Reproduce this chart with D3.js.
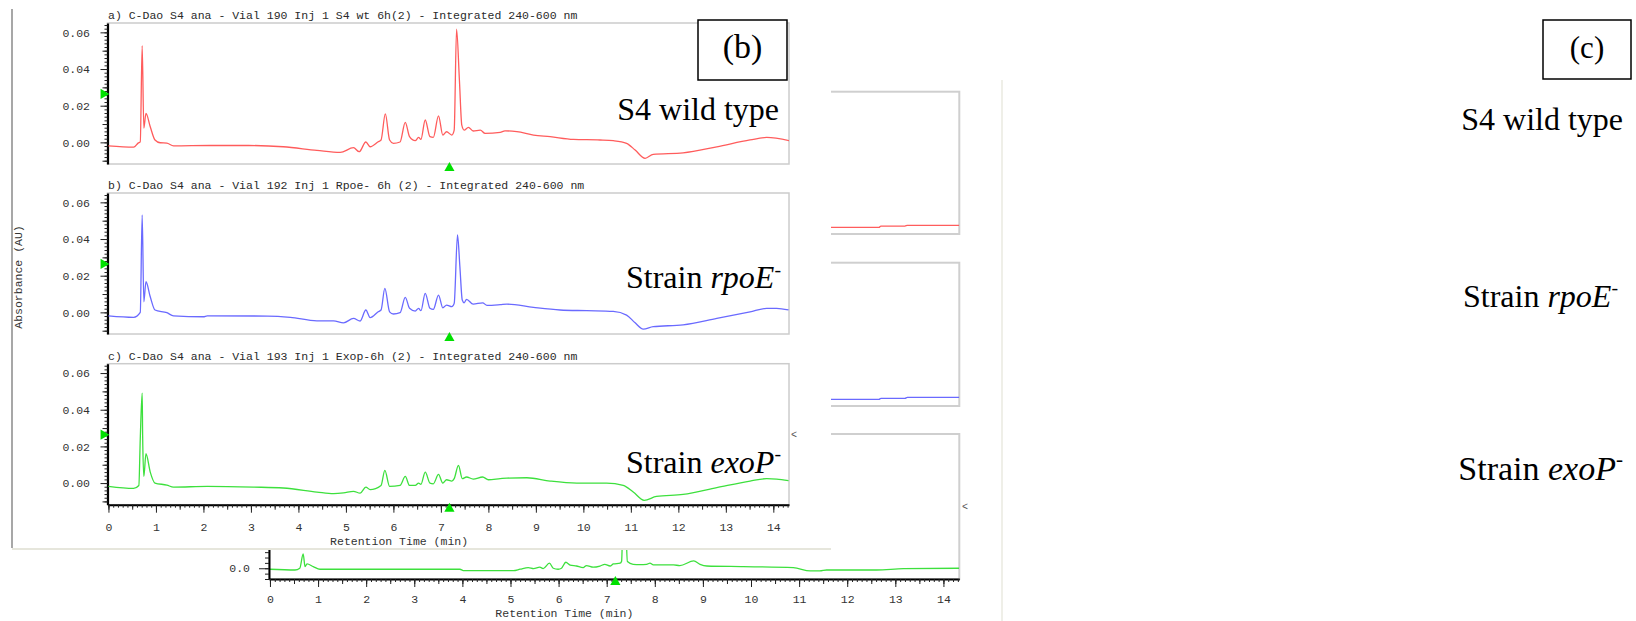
<!DOCTYPE html>
<html><head><meta charset="utf-8">
<script src="https://cdn.jsdelivr.net/npm/d3@7"></script>
<style>body{margin:0;background:#fff;} svg{display:block;}</style>
</head><body>
<svg id="c" width="1636" height="621"></svg>
<script>
// ---------------- DATA ----------------
const timeTicks = [0,1,2,3,4,5,6,7,8,9,10,11,12,13,14];
const absTicks = [0.00,0.02,0.04,0.06];
const panelTitles = [
  "a) C-Dao S4 ana - Vial 190 Inj 1 S4 wt 6h(2) - Integrated 240-600 nm",
  "b) C-Dao S4 ana - Vial 192 Inj 1 Rpoe- 6h (2) - Integrated 240-600 nm",
  "c) C-Dao S4 ana - Vial 193 Inj 1 Exop-6h (2) - Integrated 240-600 nm"
];
const xAxisTitle = "Retention Time (min)";
const yAxisTitle = "Absorbance (AU)";
const panelTags = ["(b)", "(c)"];
const sampleLabels = [
  [{t:"S4 wild type"}],
  [{t:"Strain "},{t:"rpoE",i:true},{t:"-",sup:true}],
  [{t:"Strain "},{t:"exoP",i:true},{t:"-",sup:true}]
];
// markers (green triangles)
const markerTime = 7.18;
const markerAbs = 0.0264;

// S4 wild type (red)
const wtTime = [0,0.53,0.63,0.67,0.71,0.745,0.79,0.88,0.98,1.09,1.23,1.37,2.14,2.95,3.68,4.39,4.88,5.16,5.28,5.42,5.51,5.68,5.74,5.83,5.92,6.0,6.14,6.25,6.34,6.46,6.53,6.58,6.67,6.77,6.84,6.95,7.04,7.12,7.23,7.28,7.33,7.39,7.44,7.49,7.58,7.68,7.83,7.93,8.25,8.35,8.6,8.95,9.3,9.79,10.35,10.63,10.91,11.09,11.3,11.47,12.1,12.81,13.51,13.86,14.34];
const wtAbs = [-0.0019,-0.0026,-0.0003,0.0003,0.0527,0.0078,0.0158,0.0085,0.0013,-0.0002,-0.0004,-0.0019,-0.0017,-0.0017,-0.0024,-0.0044,-0.0055,-0.0029,-0.0051,0.0002,-0.0024,0.0003,0.0013,0.0155,0.0013,-0.0005,0.0002,0.0109,0.0031,0.0009,0.0027,0.0016,0.0122,0.0031,0.0027,0.0145,0.004,0.0058,0.004,0.0067,0.0617,0.034,0.0094,0.0067,0.0082,0.0062,0.0067,0.0049,0.0055,0.0063,0.0058,0.004,0.0031,0.0016,0.0013,0.0009,-0.0005,-0.0042,-0.0087,-0.0065,-0.0057,-0.0024,0.0013,0.0027,0.0009];

// Strain rpoE- (blue)
const rpoTime = [0,0.53,0.67,0.71,0.745,0.79,0.88,0.98,1.23,1.37,2.0,2.08,3.35,3.83,4.39,4.74,4.95,5.16,5.3,5.42,5.51,5.68,5.74,5.82,5.92,6.0,6.14,6.25,6.34,6.46,6.53,6.58,6.67,6.77,6.84,6.95,7.04,7.12,7.23,7.28,7.35,7.4,7.45,7.49,7.54,7.68,7.88,7.97,8.25,8.39,8.95,9.51,10.07,10.63,10.91,11.09,11.26,11.47,12.1,12.81,13.51,13.86,14.07,14.32];
const rpoAbs = [-0.0019,-0.0027,0.0,0.0531,0.0058,0.0167,0.0085,0.0013,-0.0002,-0.0019,-0.0024,-0.0019,-0.002,-0.0027,-0.0046,-0.0046,-0.0057,-0.0033,-0.0047,0.0013,-0.0029,0.0003,0.0013,0.0131,0.0003,-0.0009,-0.0002,0.0082,0.0022,0.0007,0.0022,0.0009,0.0104,0.0022,0.0016,0.0094,0.0025,0.004,0.0031,0.0049,0.0422,0.0249,0.0067,0.0052,0.0071,0.0045,0.0052,0.0038,0.0042,0.0045,0.0027,0.0013,0.0009,0.0005,-0.0015,-0.0057,-0.0091,-0.0078,-0.0068,-0.0033,0.0003,0.0022,0.0022,0.0013];

// Strain exoP- (green)
const exoTime = [0,0.53,0.64,0.67,0.71,0.72,0.745,0.79,0.88,0.98,1.23,1.37,2.08,3.06,3.68,4.39,4.74,4.95,5.16,5.3,5.42,5.51,5.74,5.82,5.92,6.14,6.25,6.34,6.46,6.53,6.58,6.67,6.77,6.84,6.95,7.04,7.12,7.23,7.28,7.37,7.45,7.54,7.68,7.88,8.0,8.25,8.39,8.81,9.3,9.86,10.49,10.84,11.05,11.28,11.54,12.1,12.81,13.51,13.86,14.07,14.32];
const exoAbs = [-0.0018,-0.0029,-0.0013,0.0242,0.0491,0.026,0.0036,0.016,0.006,0.0,-0.0011,-0.0022,-0.0018,-0.0022,-0.0027,-0.0049,-0.0058,-0.0054,-0.0045,-0.0055,-0.0022,-0.0036,-0.0013,0.0069,-0.0018,-0.0013,0.0036,-0.0013,-0.0013,0.0,-0.0007,0.006,0.0,-0.0004,0.0047,0.0,0.0018,0.0011,0.0024,0.0097,0.0024,0.0033,0.0022,0.0033,0.0018,0.0024,0.0027,0.0029,0.0011,0.0,0.0,-0.0013,-0.0049,-0.0094,-0.0073,-0.0062,-0.0025,0.0011,0.0024,0.0022,0.0013];

// Background (partly hidden) chromatogram figure
const backWtTime = [11.4,12.66,12.7,13.2,13.25,14.33];
const backWtAbs = [-0.0038,-0.0038,-0.0026,-0.0026,-0.0019,-0.0019];
const backRpoTime = [11.4,12.66,12.7,13.2,13.25,14.33];
const backRpoAbs = [-0.0038,-0.0038,-0.0029,-0.0029,-0.002,-0.002];
const backExoTime = [0,0.52,0.62,0.69,0.73,0.77,0.9,1.04,3.95,4.02,5.06,5.2,5.37,5.48,5.61,5.68,5.81,5.89,5.99,6.06,6.15,6.24,6.37,6.51,6.58,6.72,6.86,6.96,7.07,7.14,7.28,7.31,7.34,7.39,7.43,7.55,7.69,7.83,7.9,7.97,8.39,8.52,8.81,8.94,9.08,9.84,10.88,11.23,11.43,11.57,12.61,13.17,14.33];
const backExoAbs = [-0.0009,-0.0016,0,0.0133,0.0015,0.004,0.0015,-0.0009,-0.0009,-0.0022,-0.0022,-0.0009,0.0006,-0.0003,0.001,-0.0003,0.0047,0.0,-0.0009,0.0,0.0056,0.003,0.0021,0.0006,0.0025,0.001,0.0021,0.0037,0.0021,0.004,0.0047,0.0065,0.045,0.045,0.0062,0.0037,0.0034,0.0037,0.0047,0.0031,0.0031,0.0025,0.0068,0.0037,0.0021,0.0015,0.0006,-0.0025,-0.0025,-0.0016,-0.0016,-0.0004,0.0];
const backZeroLabel = "0.0";

// ---------------- LAYOUT ----------------
const svg = d3.select("#c");
const MONO = "'Liberation Mono', 'DejaVu Sans Mono', monospace";
const SERIF = "'Liberation Serif', 'Times New Roman', serif";
const colors = ["#ff5c5c", "#6a6aff", "#3de03d"];
const markerColor = "#00e000";

const zip = (ts, vs) => ts.map((t, i) => ({t, v: vs[i]}));

// ---------- background figure ----------
const back = svg.append("g");
const bx = d3.scaleLinear().domain([-0.02, 14.33]).range([269, 959.3]);
const bTops = [91.7, 262.7, 434];
const bBottoms = [234, 406, 579];
const bSeries = [zip(backWtTime, backWtAbs), zip(backRpoTime, backRpoAbs), zip(backExoTime, backExoAbs)];

function addTimeAxis(g, x, yPos, labelOffset) {
  const minorT = d3.range(0, 144).map(k => k / 10).filter(t => t <= x.domain()[1]);
  const halfT = d3.range(0, 29).map(k => k / 2).filter(t => t <= x.domain()[1]);
  g.append("g").attr("transform", `translate(0,${yPos})`)
    .call(d3.axisBottom(x).tickValues(minorT).tickSize(3).tickSizeOuter(0).tickFormat(""))
    .call(a => { a.select(".domain").attr("stroke", "#000").attr("stroke-width", 2); a.selectAll("line").attr("stroke", "#222"); });
  g.append("g").attr("transform", `translate(0,${yPos})`)
    .call(d3.axisBottom(x).tickValues(halfT).tickSize(5).tickSizeOuter(0).tickFormat(""))
    .call(a => { a.select(".domain").remove(); a.selectAll("line").attr("stroke", "#222"); });
  g.append("g").attr("transform", `translate(0,${yPos})`)
    .call(d3.axisBottom(x).tickValues(timeTicks).tickSize(8).tickPadding(labelOffset - 8).tickSizeOuter(0).tickFormat(d3.format("d")))
    .call(a => { a.select(".domain").remove(); a.selectAll("line").attr("stroke", "#222");
      a.selectAll("text").attr("font-family", MONO).attr("font-size", 11.5).attr("fill", "#333"); });
}

bTops.forEach((top, i) => {
  const bottom = bBottoms[i];
  const by = d3.scaleLinear().domain([-0.01, -0.01 + (bottom - top) / 1074]).range([bottom, top]);
  back.append("rect").attr("x", bx.range()[0]).attr("y", top)
    .attr("width", bx.range()[1] - bx.range()[0]).attr("height", bottom - top)
    .attr("fill", "#fff").attr("stroke", "#cfcfcf").attr("stroke-width", 2);
  const clipId = "bclip" + i;
  back.append("clipPath").attr("id", clipId).append("rect")
    .attr("x", bx.range()[0]).attr("y", top).attr("width", bx.range()[1] - bx.range()[0]).attr("height", bottom - top);
  back.append("path").datum(bSeries[i]).attr("clip-path", `url(#${clipId})`)
    .attr("fill", "none").attr("stroke", colors[i]).attr("stroke-width", 1.3)
    .attr("d", d3.line().x(d => bx(d.t)).y(d => by(d.v)).curve(d3.curveMonotoneX));
  if (i === 2) {
    const minor = d3.range(-2, 25).map(k => k * 0.005);
    back.append("g").attr("transform", `translate(${bx.range()[0]},0)`)
      .call(d3.axisLeft(by).tickValues(minor).tickSize(4).tickSizeOuter(0).tickFormat(""))
      .call(g => { g.select(".domain").attr("stroke", "#000").attr("stroke-width", 2); g.selectAll("line").attr("stroke", "#222"); });
    back.append("g").attr("transform", `translate(${bx.range()[0]},0)`)
      .call(d3.axisLeft(by).tickValues([0]).tickSize(10).tickPadding(9).tickSizeOuter(0).tickFormat(() => backZeroLabel))
      .call(g => { g.select(".domain").remove(); g.selectAll("line").attr("stroke", "#222");
        g.selectAll("text").attr("font-family", MONO).attr("font-size", 11.5).attr("fill", "#333"); });
    addTimeAxis(back, bx, bottom, 16);
    back.append("text").attr("x", bx(6.12)).attr("y", 617).attr("text-anchor", "middle")
      .attr("font-family", MONO).attr("font-size", 11.5).attr("fill", "#333").text(xAxisTitle);
    back.append("path").attr("d", d3.symbol(d3.symbolTriangle, 45)())
      .attr("transform", `translate(${bx(markerTime)},${bottom + 3})`).attr("fill", markerColor);
  }
});
back.append("text").attr("x", 962).attr("y", 510).attr("font-family", MONO).attr("font-size", 10).attr("fill", "#555").text("<");

// ---------- front figure ----------
const front = svg.append("g");
front.append("rect").attr("x", 12).attr("y", 0).attr("width", 819).attr("height", 548).attr("fill", "#fff");
front.append("line").attr("x1", 12).attr("x2", 12).attr("y1", 9).attr("y2", 548).attr("stroke", "#8a8a8a").attr("stroke-width", 1.5);
front.append("line").attr("x1", 12).attr("x2", 831).attr("y1", 549).attr("y2", 549).attr("stroke", "#e6e6dc").attr("stroke-width", 2);

const fx = d3.scaleLinear().domain([-0.02, 14.33]).range([107.5, 789]);
const fTops = [23, 193, 363.7];
const fH = 141;
const fSeries = [zip(wtTime, wtAbs), zip(rpoTime, rpoAbs), zip(exoTime, exoAbs)];
fTops.forEach((top, i) => {
  const bottom = top + fH;
  const fy = d3.scaleLinear().domain([-0.0118, 0.0651]).range([bottom, top]);
  front.append("rect").attr("x", fx.range()[0]).attr("y", top)
    .attr("width", fx.range()[1] - fx.range()[0]).attr("height", fH)
    .attr("fill", "#fff").attr("stroke", "#cccccc").attr("stroke-width", 1.5);
  front.append("text").attr("x", 108).attr("y", top - 4)
    .attr("font-family", MONO).attr("font-size", 11.5).attr("fill", "#2a2a2a").attr("xml:space", "preserve")
    .text(panelTitles[i]);
  const minor = d3.range(-5, 33).map(k => k * 0.002);
  const mid = [-0.01, 0.01, 0.03, 0.05];
  front.append("g").attr("transform", `translate(${fx.range()[0]},0)`)
    .call(d3.axisLeft(fy).tickValues(minor).tickSize(3).tickSizeOuter(0).tickFormat(""))
    .call(a => { a.select(".domain").attr("stroke", "#000").attr("stroke-width", 2.2); a.selectAll("line").attr("stroke", "#222"); });
  front.append("g").attr("transform", `translate(${fx.range()[0]},0)`)
    .call(d3.axisLeft(fy).tickValues(mid).tickSize(5).tickSizeOuter(0).tickFormat(""))
    .call(a => { a.select(".domain").remove(); a.selectAll("line").attr("stroke", "#222"); });
  front.append("g").attr("transform", `translate(${fx.range()[0]},0)`)
    .call(d3.axisLeft(fy).tickValues(absTicks).tickSize(7).tickPadding(10.5).tickSizeOuter(0).tickFormat(d3.format(".2f")))
    .call(a => { a.select(".domain").remove(); a.selectAll("line").attr("stroke", "#222");
      a.selectAll("text").attr("font-family", MONO).attr("font-size", 11.5).attr("fill", "#333"); });
  const clipId = "fclip" + i;
  front.append("clipPath").attr("id", clipId).append("rect")
    .attr("x", fx.range()[0]).attr("y", top).attr("width", fx.range()[1] - fx.range()[0]).attr("height", fH);
  front.append("path").datum(fSeries[i]).attr("clip-path", `url(#${clipId})`)
    .attr("fill", "none").attr("stroke", colors[i]).attr("stroke-width", 1.3)
    .attr("d", d3.line().x(d => fx(d.t)).y(d => fy(d.v)).curve(d3.curveMonotoneX));
  if (i === 2) addTimeAxis(front, fx, bottom, 18);
  front.append("path").attr("d", d3.symbol(d3.symbolTriangle, 45)())
    .attr("transform", `translate(${fx(markerTime)},${bottom + 4})`).attr("fill", markerColor);
  front.append("path").attr("d", d3.symbol(d3.symbolTriangle, 45)())
    .attr("transform", `translate(${fx.range()[0] - 4},${fy(markerAbs)}) rotate(90)`).attr("fill", markerColor);
});
front.append("text").attr("x", fx(6.12)).attr("y", 545).attr("text-anchor", "middle")
  .attr("font-family", MONO).attr("font-size", 11.5).attr("fill", "#333").text(xAxisTitle);
front.append("text").attr("transform", "translate(22,277) rotate(-90)").attr("text-anchor", "middle")
  .attr("font-family", MONO).attr("font-size", 11.5).attr("fill", "#333").text(yAxisTitle);
front.append("text").attr("x", 791).attr("y", 438).attr("font-family", MONO).attr("font-size", 10).attr("fill", "#555").text("<");

// panel tag boxes
const tagBoxes = [{x: 698, y: 20, w: 89, h: 60, fs: 34, base: 57.5}, {x: 1543, y: 20, w: 88, h: 59, fs: 31, base: 58}];
tagBoxes.forEach((b, i) => {
  svg.append("rect").attr("x", b.x).attr("y", b.y).attr("width", b.w).attr("height", b.h)
    .attr("fill", "#fff").attr("stroke", "#000").attr("stroke-width", 1.5);
  svg.append("text").attr("x", b.x + b.w / 2).attr("y", b.base).attr("text-anchor", "middle")
    .attr("font-family", SERIF).attr("font-size", b.fs).attr("fill", "#000").text(panelTags[i]);
});

// sample labels
function drawLabel(parts, x, y, fs) {
  const t = svg.append("text").attr("x", x).attr("y", y).attr("text-anchor", "end")
    .attr("font-family", SERIF).attr("font-size", fs).attr("fill", "#000").attr("xml:space", "preserve");
  parts.forEach(p => {
    const s = t.append("tspan").text(p.t);
    if (p.i) s.attr("font-style", "italic");
    if (p.sup) s.attr("font-size", fs * 0.62).attr("dy", -fs * 0.4);
  });
}
const frontLabelPos = [[779, 120, 32], [781, 288.3, 32], [781, 472.7, 32]];
const rightLabelPos = [[1623, 130, 32], [1618, 307, 32], [1623, 480, 34]];
sampleLabels.forEach((p, i) => { drawLabel(p, ...frontLabelPos[i]); drawLabel(p, ...rightLabelPos[i]); });

// right separator
svg.append("line").attr("x1", 1002).attr("x2", 1002).attr("y1", 80).attr("y2", 621).attr("stroke", "#efefe8").attr("stroke-width", 2);
</script>
</body></html>
